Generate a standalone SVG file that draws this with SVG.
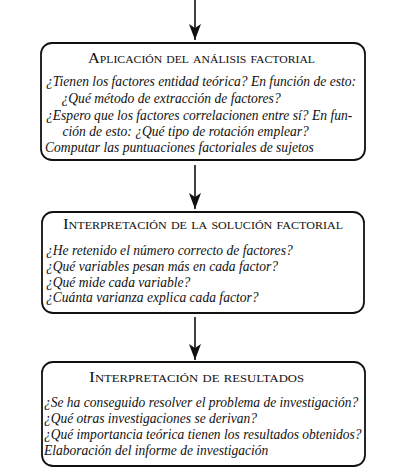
<svg xmlns="http://www.w3.org/2000/svg" width="401" height="473" viewBox="0 0 401 473">
<style>
.box{fill:#fff;stroke:#111;stroke-width:1.8}
.t{font-family:"Liberation Serif",serif;font-size:14px;font-variant:small-caps;fill:#111;text-anchor:start}
.b{font-family:"Liberation Serif",serif;font-size:14px;font-style:italic;fill:#111}
.c{stroke:#111;stroke-width:1.6;fill:none}
</style>
<defs>
<marker id="ah" markerWidth="16" markerHeight="12" refX="16" refY="6" orient="auto" markerUnits="userSpaceOnUse" viewBox="0 0 16 12">
<path d="M0,0 L16,6 L0,12 L4,6 Z" fill="#111"/>
</marker>
</defs>
<g id="connectors">
<line class="c" x1="195" y1="0" x2="195" y2="40" marker-end="url(#ah)"/>
<line class="c" x1="195" y1="165" x2="195" y2="209" marker-end="url(#ah)"/>
<line class="c" x1="195" y1="317" x2="195" y2="360" marker-end="url(#ah)"/>
</g>
<g id="node1">
<rect class="box" x="41" y="43" width="324" height="117" rx="11"/>
<text class="t" x="88" y="63" textLength="227" lengthAdjust="spacingAndGlyphs">Aplicación del análisis factorial</text>
<g transform="translate(46,0) scale(0.97,1) translate(-46,0)">
<text class="b" x="46" y="86">¿Tienen los factores entidad teórica? En función de esto:</text>
<text class="b" x="62" y="103">¿Qué método de extracción de factores?</text>
<text class="b" x="46" y="120">¿Espero que los factores correlacionen entre sí? En fun-</text>
<text class="b" x="63" y="136">ción de esto: ¿Qué tipo de rotación emplear?</text>
<text class="b" x="45" y="152">Computar las puntuaciones factoriales de sujetos</text>
</g>
</g>
<g id="node2">
<rect class="box" x="42" y="212" width="322" height="101" rx="11"/>
<text class="t" x="63" y="229" textLength="280" lengthAdjust="spacingAndGlyphs">Interpretación de la solución factorial</text>
<g transform="translate(46,0) scale(0.97,1) translate(-46,0)">
<text class="b" x="46" y="255">¿He retenido el número correcto de factores?</text>
<text class="b" x="46" y="271">¿Qué variables pesan más en cada factor?</text>
<text class="b" x="46" y="287">¿Qué mide cada variable?</text>
<text class="b" x="46" y="302">¿Cuánta varianza explica cada factor?</text>
</g>
</g>
<g id="node3">
<rect class="box" x="42" y="362" width="323" height="104" rx="11"/>
<text class="t" x="89" y="382" textLength="215" lengthAdjust="spacingAndGlyphs">Interpretación de resultados</text>
<g transform="translate(44,0) scale(0.965,1) translate(-44,0)">
<text class="b" x="44" y="407">¿Se ha conseguido resolver el problema de investigación?</text>
<text class="b" x="44" y="423">¿Qué otras investigaciones se derivan?</text>
<text class="b" x="44" y="439">¿Qué importancia teórica tienen los resultados obtenidos?</text>
<text class="b" x="44" y="455">Elaboración del informe de investigación</text>
</g>
</g>
</svg>
